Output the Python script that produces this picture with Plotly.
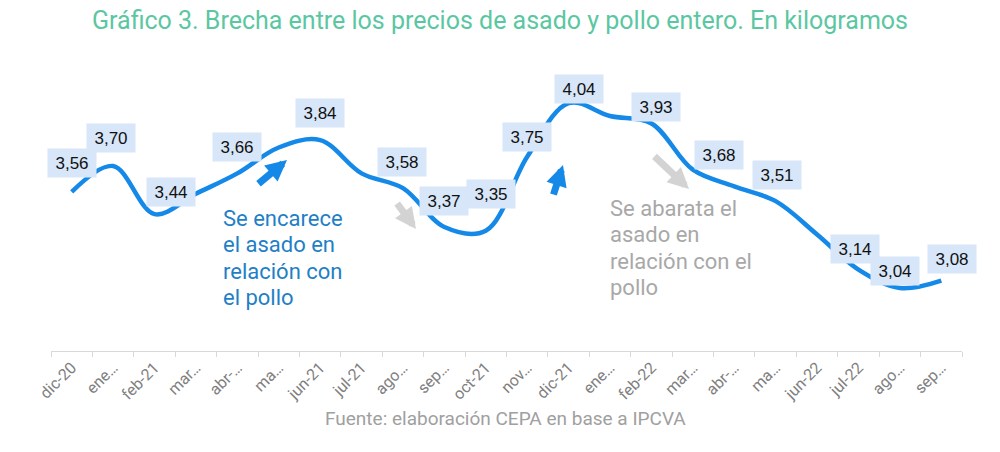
import plotly.graph_objects as go

months = ["dic-20", "ene-21", "feb-21", "mar-21", "abr-21", "may-21", "jun-21", "jul-21",
          "ago-21", "sep-21", "oct-21", "nov-21", "dic-21", "ene-22", "feb-22", "mar-22",
          "abr-22", "may-22", "jun-22", "jul-22", "ago-22", "sep-22"]
tick_text = ["dic-20", "ene…", "feb-21", "mar…", "abr-…", "ma…", "jun-21", "jul-21",
             "ago…", "sep…", "oct-21", "nov…", "dic-21", "ene…", "feb-22", "mar…",
             "abr-…", "ma…", "jun-22", "jul-22", "ago…", "sep…"]
values = [3.56, 3.70, 3.44, 3.55, 3.66, 3.80, 3.84, 3.66, 3.58, 3.37, 3.35, 3.75,
          4.04, 3.97, 3.93, 3.68, 3.59, 3.51, 3.33, 3.14, 3.04, 3.08]
labeled = [True, True, True, False, True, False, True, False, True, True, True, True,
           True, False, True, True, False, True, False, True, True, True]

# label box offsets (pixels) relative to each point
label_dx = [0, -2, 16, 0, 0, 0, 0, 0, -1, 0, 5, 0, 10, 0, 5, 26, 0, 1, 0, -3, -5, 11]
label_dy = [29, 28, 22, 0, 26, 0, 27, 0, 26, 26, 37, 20, 14, 0, 16, 15, 0, 26, 0, 21, 17, 22]

blue_lines = ["Se encarece", "el asado en", "relación con", "el pollo"]
gray_lines = ["Se abarata el", "asado en", "relación con el", "pollo"]

LINE_BLUE = "#1589e8"
W, H = 1000, 452
ML, MR, MT, MB = 51, 38, 55, 101
PW, PH = W - ML - MR, H - MT - MB


def px(x):
    return (x - ML) / PW


def py(y):
    return (H - MB - y) / PH


fig = go.Figure()
fig.add_trace(go.Scatter(
    x=months, y=values, mode="lines",
    line=dict(color=LINE_BLUE, width=4.5, shape="spline", smoothing=1.0),
    hoverinfo="skip", showlegend=False,
))

annotations = []
for i, (m, v) in enumerate(zip(months, values)):
    if not labeled[i]:
        continue
    annotations.append(dict(
        x=m, y=v, xref="x", yref="y", showarrow=False,
        text=f"{v:.2f}".replace(".", ","),
        xshift=label_dx[i], yshift=label_dy[i],
        bgcolor="#d7e6f8", borderpad=3, width=42, height=22,
        font=dict(family="Liberation Sans, Arial", size=17, color="#111111"),
    ))

# arrows (tail -> tip in pixels)
arrows = [
    ((257, 185), (287, 160), LINE_BLUE),
    ((553, 196), (563, 165), LINE_BLUE),
    ((396, 202), (416, 229), "#d3d3d3"),
    ((653, 155), (689, 189), "#d3d3d3"),
]
for (tx, ty), (hx, hy), col in arrows:
    annotations.append(dict(
        x=px(hx), y=py(hy), xref="paper", yref="paper",
        ax=tx - hx, ay=ty - hy, axref="pixel", ayref="pixel",
        text="", showarrow=True, arrowhead=2, arrowsize=0.6, arrowwidth=7,
        arrowcolor=col, standoff=0,
    ))

for k, line in enumerate(blue_lines):
    annotations.append(dict(
        x=px(221), y=py(218 + 26.6 * k), xref="paper", yref="paper",
        xanchor="left", yanchor="middle", showarrow=False, text=line,
        font=dict(family="Roboto", size=22, color="#1f7fc6"),
    ))
for k, line in enumerate(gray_lines):
    annotations.append(dict(
        x=px(608), y=py(208 + 26.6 * k), xref="paper", yref="paper",
        xanchor="left", yanchor="middle", showarrow=False, text=line,
        font=dict(family="Roboto", size=22, color="#a8a8a8"),
    ))
annotations.append(dict(
    x=px(505), y=py(432), xref="paper", yref="paper", showarrow=False,
    text="Fuente: elaboración CEPA en base a IPCVA",
    font=dict(family="Roboto", size=19, color="#a0a0a0"),
))

fig.update_layout(
    width=W, height=H,
    margin=dict(l=ML, r=MR, t=MT, b=MB),
    paper_bgcolor="white", plot_bgcolor="white",
    title=dict(
        text="Gráfico 3. Brecha entre los precios de asado y pollo entero. En kilogramos",
        x=0.5, xanchor="center", y=1 - 20 / H, yanchor="middle",
        font=dict(family="Roboto", size=25, color="#5bc7a2"),
    ),
    xaxis=dict(
        type="category", tickmode="array", tickvals=months, ticktext=tick_text,
        tickangle=-45, showgrid=False, zeroline=False,
        showline=True, linecolor="#d9d9d9", linewidth=1,
        ticks="outside", tickson="boundaries", ticklen=5, tickcolor="#d9d9d9",
        tickfont=dict(family="Roboto", size=16, color="#808080"),
        range=[-0.5, len(months) - 0.5],
    ),
    yaxis=dict(range=[2.7, 4.3], visible=False, showgrid=False, zeroline=False),
    annotations=annotations,
)

fig.write_html("out.html")
